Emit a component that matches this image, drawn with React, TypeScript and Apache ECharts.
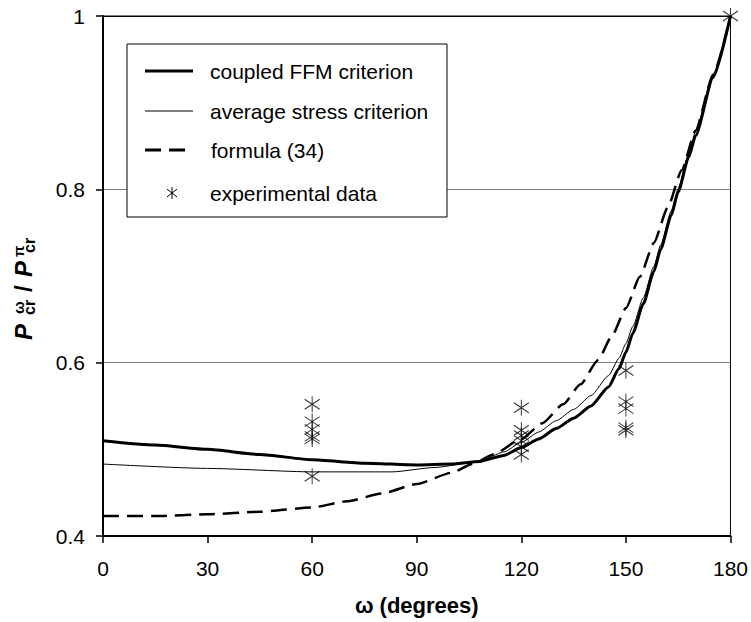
import React, { useEffect, useRef } from "react";
import * as echarts from "echarts";

// ---- data ----
const coupledAngles = [0, 15, 30, 45, 60, 75, 90, 100, 108, 115, 120, 125, 130, 135, 140, 145, 148, 150, 152, 155, 158, 160, 163, 165, 168, 170, 175, 180];
const coupledValues = [0.51, 0.505, 0.5, 0.494, 0.488, 0.484, 0.482, 0.483, 0.486, 0.493, 0.502, 0.512, 0.524, 0.536, 0.55, 0.572, 0.593, 0.612, 0.634, 0.668, 0.705, 0.731, 0.77, 0.797, 0.837, 0.862, 0.929, 1.0];

const averageAngles = [0, 30, 60, 83, 95, 108, 115, 120, 125, 130, 135, 140, 145, 148, 150, 152, 155, 158, 160, 163, 165, 168, 170, 175, 180];
const averageValues = [0.483, 0.478, 0.474, 0.474, 0.479, 0.486, 0.497, 0.508, 0.52, 0.533, 0.546, 0.562, 0.585, 0.605, 0.622, 0.642, 0.675, 0.711, 0.736, 0.775, 0.801, 0.841, 0.867, 0.933, 1.0];

const formulaAngles = [0, 15, 30, 45, 60, 70, 80, 90, 100, 106, 112, 120, 126, 132, 137, 142, 146, 150, 154, 158, 162, 166, 170, 175, 180];
const formulaValues = [0.423, 0.423, 0.425, 0.428, 0.433, 0.44, 0.449, 0.46, 0.473, 0.483, 0.494, 0.512, 0.53, 0.552, 0.575, 0.603, 0.631, 0.663, 0.699, 0.738, 0.779, 0.822, 0.868, 0.932, 1.0];

const expAngles = [60, 60, 60, 60, 60, 60, 120, 120, 120, 120, 120, 120, 150, 150, 150, 150, 150, 180];
const expValues = [0.552, 0.532, 0.523, 0.515, 0.512, 0.469, 0.548, 0.522, 0.516, 0.51, 0.503, 0.494, 0.591, 0.555, 0.547, 0.525, 0.522, 1.0];

const xTicks = { min: 0, max: 180, interval: 30 };
const yTicks = { min: 0.4, max: 1, interval: 0.2 };

const legendLabels = ["coupled FFM criterion", "average stress criterion", "formula (34)", "experimental data"];

const FONT = '"Liberation Sans", Arial, Helvetica, sans-serif';

const pairs = (xs: number[], ys: number[]) => xs.map((x, i) => [x, ys[i]]);

const STAR = "path://M7,0L7,16M0,3L14,13M0,13L14,3";

export default function App() {
  const ref = useRef<HTMLDivElement>(null);
  useEffect(() => {
    if (!ref.current) return;
    const chart = echarts.init(ref.current, undefined, { renderer: "svg" });
    const legendY = [71, 111, 150, 193];
    const txt = (text: string, x: number, y: number, size: number, extra: any = {}) => ({
      type: "text",
      x,
      y,
      z: 101,
      style: { text, fontSize: size, fontFamily: FONT, fill: "#000", verticalAlign: "middle", align: "left", ...extra },
    });
    const option: any = {
      animation: false,
      grid: { left: 103, right: 20, top: 16, bottom: 86, show: true, borderColor: "#000", borderWidth: 1, backgroundColor: "transparent" },
      xAxis: {
        type: "value",
        ...xTicks,
        axisLine: { show: true, onZero: false, lineStyle: { color: "#000", width: 2 } },
        axisTick: { show: true, length: 7, lineStyle: { color: "#000", width: 1.5 } },
        axisLabel: { color: "#000", fontSize: 21, fontFamily: FONT, margin: 22 },
        splitLine: { show: false },
        name: "ω (degrees)",
        nameLocation: "middle",
        nameGap: 58,
        nameTextStyle: { fontSize: 22, fontWeight: "bold", color: "#000", fontFamily: FONT },
      },
      yAxis: {
        type: "value",
        ...yTicks,
        axisLine: { show: true, onZero: false, lineStyle: { color: "#000", width: 2 } },
        axisTick: { show: true, length: 7, lineStyle: { color: "#000", width: 1.5 } },
        axisLabel: {
          color: "#000",
          fontSize: 21,
          fontFamily: FONT,
          margin: 18,
          formatter: (v: number) => String(+v.toFixed(1)),
        },
        splitLine: { show: true, lineStyle: { color: ["#000", "#808080", "#808080", "#000"], width: 1 } },
      },
      series: [
        {
          name: legendLabels[0],
          type: "line",
          data: pairs(coupledAngles, coupledValues),
          showSymbol: false,
          symbol: "none",
          smooth: 0.2,
          smoothMonotone: "x",
          lineStyle: { color: "#000", width: 3 },
          z: 3,
        },
        {
          name: legendLabels[1],
          type: "line",
          data: pairs(averageAngles, averageValues),
          showSymbol: false,
          symbol: "none",
          smooth: 0.2,
          smoothMonotone: "x",
          lineStyle: { color: "#000", width: 1 },
          z: 3,
        },
        {
          name: legendLabels[2],
          type: "line",
          data: pairs(formulaAngles, formulaValues),
          showSymbol: false,
          symbol: "none",
          smooth: 0.2,
          smoothMonotone: "x",
          lineStyle: { color: "#000", width: 2.5, type: [16, 8] },
          z: 3,
        },
        {
          name: legendLabels[3],
          type: "scatter",
          data: pairs(expAngles, expValues),
          symbol: STAR,
          symbolSize: [15, 16],
          itemStyle: { color: "transparent", borderColor: "#000", borderWidth: 1 },
          z: 4,
        },
      ],
      graphic: [
        {
          type: "rect",
          z: 100,
          shape: { x: 127, y: 44, width: 320, height: 173 },
          style: { fill: "#fff", stroke: "#000", lineWidth: 1 },
        },
        { type: "line", z: 101, shape: { x1: 145, y1: legendY[0], x2: 193, y2: legendY[0] }, style: { stroke: "#000", lineWidth: 3 } },
        { type: "line", z: 101, shape: { x1: 145, y1: legendY[1], x2: 193, y2: legendY[1] }, style: { stroke: "#000", lineWidth: 1 } },
        { type: "line", z: 101, shape: { x1: 145, y1: legendY[2], x2: 193, y2: legendY[2] }, style: { stroke: "#000", lineWidth: 3, lineDash: [16, 8] } },
        { type: "line", z: 101, shape: { x1: 172, y1: legendY[3] - 6, x2: 172, y2: legendY[3] + 6 }, style: { stroke: "#000", lineWidth: 1 } },
        { type: "line", z: 101, shape: { x1: 167, y1: legendY[3] - 4, x2: 177, y2: legendY[3] + 4 }, style: { stroke: "#000", lineWidth: 1 } },
        { type: "line", z: 101, shape: { x1: 167, y1: legendY[3] + 4, x2: 177, y2: legendY[3] - 4 }, style: { stroke: "#000", lineWidth: 1 } },
        txt(legendLabels[0], 210, legendY[0], 21),
        txt(legendLabels[1], 210, legendY[1], 21),
        txt(legendLabels[2], 211, legendY[2], 21),
        txt(legendLabels[3], 210, legendY[3], 21),
        {
          type: "group",
          x: 23,
          y: 340,
          rotation: Math.PI / 2,
          children: [
            txt("P", 0, 0, 24, { fontWeight: "bold", fontStyle: "italic" }),
            txt("ω", 26, -5, 15, { fontWeight: "bold" }),
            txt("cr", 25, 6, 16, { fontWeight: "bold" }),
            txt("/", 48, 0, 24, { fontWeight: "bold" }),
            txt("P", 63, 0, 24, { fontWeight: "bold", fontStyle: "italic" }),
            txt("π", 83, -5, 15, { fontWeight: "bold" }),
            txt("cr", 87, 6, 16, { fontWeight: "bold" }),
          ],
        },
      ],
    };
    chart.setOption(option);
    return () => chart.dispose();
  }, []);
  return <div ref={ref} style={{ width: 751, height: 622, position: "absolute", left: 0, top: 0 }} />;
}
